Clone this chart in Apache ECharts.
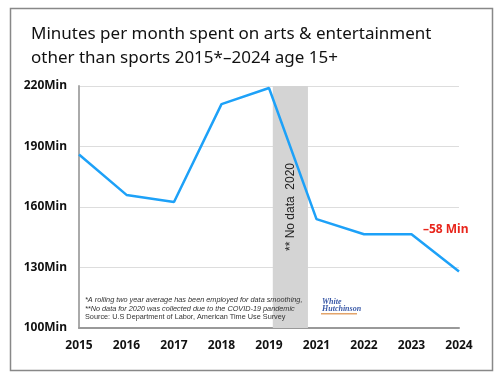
<!DOCTYPE html>
<html>
<head>
<meta charset="utf-8">
<script src="https://cdn.jsdelivr.net/npm/echarts@6/dist/echarts.min.js"></script>
<style>
  html, body { margin: 0; padding: 0; background: #ffffff; }
  #chart { width: 498px; height: 376px; }
</style>
</head>
<body>
<div id="chart"></div>
<script>
// years shown on x axis (2020 missing)
var years = ["2015", "2016", "2017", "2018", "2019", "2021", "2022", "2023", "2024"];
// minutes per month
var minutes = [186, 166, 162.5, 211, 219, 154, 146.5, 146.5, 128];
var yTicks = [100, 130, 160, 190, 220];

// no data band, in axis index units
var gapBand = [4.08, 4.82];
var gapText = "** No data  2020";
var dropText = "\u201358 Min";
var dropAt = [7.72, 148.6];

var notes = [
  "*A rolling two year average has been employed for data smoothing,",
  "**No data for 2020 was collected due to the COVID-19 pandemic"
];
var source = "Source: U.S Department of Labor, American Time Use Survey";

var chart = echarts.init(document.getElementById("chart"));

var option = {
  backgroundColor: "#ffffff",
  animation: false,
  title: {
    text: "Minutes per month spent on arts & entertainment\nother than sports 2015*\u20132024 age 15+",
    left: 26,
    top: 17,
    textStyle: {
      fontFamily: "Noto Sans",
      fontSize: 17,
      fontWeight: "normal",
      color: "#111",
      lineHeight: 24
    }
  },
  grid: {
    left: 79,
    right: 39,
    top: 86,
    bottom: 48
  },
  xAxis: {
    type: "value",
    min: 0,
    max: years.length - 1,
    interval: 1,
    axisLine: { show: true, lineStyle: { color: "#999", width: 2 } },
    axisTick: { show: false },
    splitLine: { show: false },
    axisLabel: {
      margin: 12,
      fontFamily: "Noto Sans",
      fontWeight: "bold",
      fontSize: 12,
      color: "#111",
      formatter: function (v) { return years[v]; }
    }
  },
  yAxis: {
    type: "value",
    min: yTicks[0],
    max: yTicks[yTicks.length - 1],
    interval: 30,
    axisLine: { show: true, lineStyle: { color: "#aaa", width: 2 } },
    axisTick: { show: false },
    splitLine: { lineStyle: { color: "#ddd", width: 1 } },
    axisLabel: {
      margin: 12,
      fontFamily: "Noto Sans",
      fontWeight: "bold",
      fontSize: 12,
      color: "#111",
      formatter: "{value}Min"
    }
  },
  series: [
    {
      type: "line",
      data: minutes.map(function (v, i) { return [i, v]; }),
      symbol: "none",
      lineStyle: { color: "#1da1f8", width: 2.5 },
      z: 2,
      markPoint: {
        symbol: "circle",
        symbolSize: 1,
        itemStyle: { color: "rgba(0,0,0,0)" },
        label: {
          show: true,
          position: "inside",
          formatter: dropText,
          color: "#e8261c",
          fontFamily: "Noto Sans",
          fontSize: 12,
          fontWeight: "bold"
        },
        data: [{ coord: dropAt }]
      }
    },
    {
      type: "line",
      data: [],
      z: 5,
      markArea: {
        silent: true,
        itemStyle: { color: "#d4d4d4" },
        label: {
          show: true,
          position: "inside",
          rotate: 90,
          formatter: gapText,
          fontFamily: "Liberation Sans",
          fontSize: 12,
          color: "#222"
        },
        data: [[{ xAxis: gapBand[0], yAxis: yTicks[0] }, { xAxis: gapBand[1], yAxis: yTicks[yTicks.length - 1] }]]
      }
    }
  ],
  graphic: [
    {
      type: "rect",
      left: 8,
      top: 6,
      shape: { width: 482, height: 362 },
      style: { fill: "none", stroke: "#888", lineWidth: 1.5 },
      silent: true
    },
    {
      type: "text",
      left: 85,
      top: 295,
      z: 20,
      style: {
        text: notes.join("\n"),
        font: "italic 7.3px 'Liberation Sans'",
        fill: "#333",
        lineHeight: 9
      }
    },
    {
      type: "text",
      left: 85,
      top: 313,
      z: 20,
      style: {
        text: source,
        font: "7.3px 'Liberation Sans'",
        fill: "#333"
      }
    },
    {
      type: "text",
      left: 322,
      top: 298,
      z: 20,
      style: {
        text: "White\nHutchinson",
        font: "italic bold 8px 'Liberation Serif'",
        fill: "#3b5aa8",
        lineHeight: 7
      }
    },
    {
      type: "rect",
      left: 321,
      top: 313,
      z: 20,
      shape: { width: 36, height: 1.5 },
      style: { fill: "#e3a46a" }
    }
  ]
};

chart.setOption(option);
</script>
</body>
</html>
